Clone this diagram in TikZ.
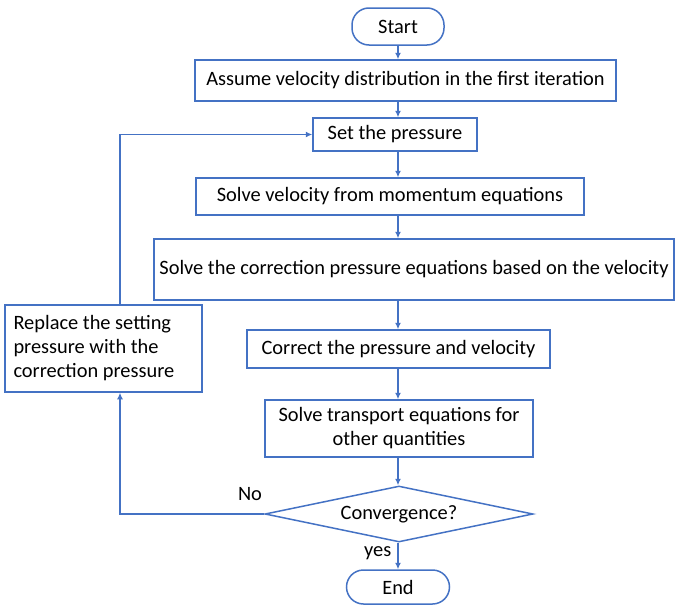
\documentclass[tikz,border=0pt]{standalone}
\usepackage{fontspec}
\setmainfont{Carlito}
\usetikzlibrary{arrows.meta}
\usetikzlibrary{shapes.geometric}
\definecolor{flowblue}{HTML}{4472C4}
\tikzset{box/.style = {draw=flowblue, line width=1.5pt, rectangle, inner sep=0,
                       font=\fontsize{20.4}{24}\selectfont, align=center}}
\tikzset{term/.style = {box, rounded corners=17pt}}
\tikzset{decision/.style = {box, diamond, aspect=4.8}}
\tikzset{flow/.style = {draw=flowblue, line width=1.5pt,
                        -{Latex[length=6.5pt,width=6pt]}}}
\tikzset{lbl/.style = {font=\fontsize{20.4}{24}\selectfont, inner sep=0}}

\begin{document}
\begin{tikzpicture}[x=1pt, y=-1pt]
    \useasboundingbox (0, 0) rectangle (675, 605);

    \node [term, minimum width=92, minimum height=37] (start) at (398, 26.5) {Start};
    \node [box, minimum width=421, minimum height=41] (assume) at (405.5, 80.5)
        {Assume velocity distribution in the first iteration};
    \node [box, minimum width=164, minimum height=33] (setp) at (395, 134.5) {Set the pressure};
    \node [box, minimum width=388, minimum height=37] (solvevel) at (390, 196.5)
        {Solve velocity from momentum equations};
    \node [box, minimum width=520, minimum height=61] (corrp) at (414, 269.5)
        {Solve the correction pressure equations based on the velocity};
    \node [box, minimum width=197, minimum height=87, text width=180, align=flush left]
        (replace) at (103.5, 348.5) {Replace the setting\\pressure with the\\correction pressure};
    \node [box, minimum width=303, minimum height=38] (correct) at (398.5, 349)
        {Correct the pressure and velocity};
    \node [box, minimum width=268, minimum height=57] (transport) at (399, 428.5)
        {Solve transport equations for\\other quantities};
    \node [decision, minimum width=268, minimum height=56] (conv) at (399, 514) {Convergence?};
    \node [term, minimum width=103, minimum height=34] (end) at (398, 587) {End};

    \coordinate (loopbot) at (120, 514);
    \coordinate (looptop) at (120, 134.5);

    \draw [flow] (start.south) -- (start |- assume.north);
    \draw [flow] (start |- assume.south) -- (start |- setp.north);
    \draw [flow] (start |- setp.south) -- (start |- solvevel.north);
    \draw [flow] (start |- solvevel.south) -- (start |- corrp.north);
    \draw [flow] (start |- corrp.south) -- (start |- correct.north);
    \draw [flow] (start |- correct.south) -- (start |- transport.north);
    \draw [flow] (start |- transport.south) -- (start |- conv.north);
    \draw [flow] (start |- conv.south) -- (end.north) node [lbl, pos=0.4, left=6pt] {yes};
    \draw [flow] (conv.west) -- (loopbot) -- (replace.south -| loopbot);
    \draw [flow] (replace.north -| looptop) -- (looptop) -- (setp.west);
    \node [lbl] (nolbl) at (250, 494) {No};
\end{tikzpicture}
\end{document}
